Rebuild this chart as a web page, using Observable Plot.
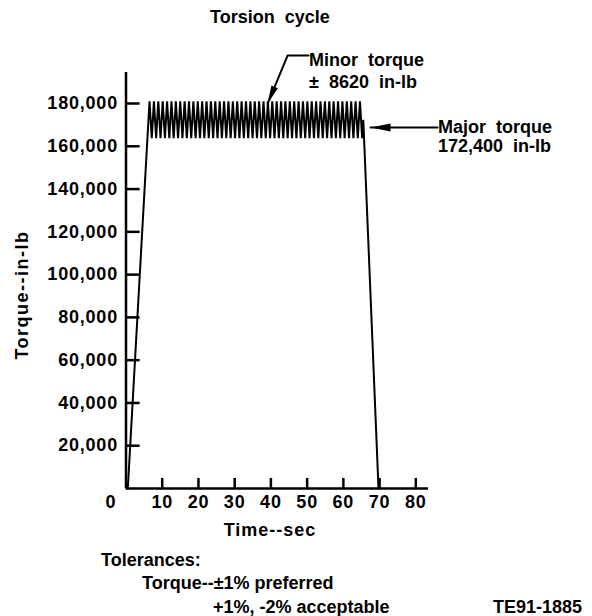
<!DOCTYPE html>
<html>
<head>
<meta charset="utf-8">
<script src="https://cdn.jsdelivr.net/npm/d3@7"></script>
<script src="https://cdn.jsdelivr.net/npm/@observablehq/plot@0.6"></script>
<style>
  body { margin: 0; background: #fff; }
  #wrap { position: relative; width: 592px; height: 616px; overflow: hidden; background: #fff; }
  #chart { position: absolute; left: 0; top: 0; }
  .lbl { position: absolute; font: bold 18px "Liberation Sans", Arial, Helvetica, sans-serif; line-height: 18px; white-space: pre; color: #000; }
  svg text { letter-spacing: 0.8px; }
</style>
</head>
<body>
<div id="wrap">
  <div id="chart"></div>
  <div class="lbl" style="left:210px; top:8px;">Torsion  cycle</div>
  <div class="lbl" style="left:22px; top:295px; transform: translate(-50%,-50%) rotate(-90deg); letter-spacing:1.5px;">Torque--in-lb</div>
  <div class="lbl" style="left:270px; top:530px; transform: translate(-50%,-50%); letter-spacing:1px;">Time--sec</div>
  <div class="lbl" style="left:309px; top:51px;">Minor  torque</div>
  <div class="lbl" style="left:309px; top:73px;">±  8620  in-lb</div>
  <div class="lbl" style="left:438px; top:118px;">Major  torque</div>
  <div class="lbl" style="left:438px; top:137px;">172,400  in-lb</div>
  <div class="lbl" style="left:101px; top:551px;">Tolerances:</div>
  <div class="lbl" style="left:142px; top:574px;">Torque--±1% preferred</div>
  <div class="lbl" style="left:213px; top:598px;">+1%, -2% acceptable</div>
  <div class="lbl" style="left:493px; top:598px;">TE91-1885</div>
</div>
<script>
// ---- data ----
const yTicks = [20000, 40000, 60000, 80000, 100000, 120000, 140000, 160000, 180000];
const xTicks = [10, 20, 30, 40, 50, 60, 70, 80];
const xZeroTick = [0];
const xDomain = [0, 83.5];
const yDomain = [0, 194500];
// inward tick lengths, in data units
const yTickLen = 3.9;     // seconds
const xTickLen = 4700;    // in-lb

const majorTorque = 172400;
const minorTorque = 8620;

const rampTime = [0.5, 6.2];
const rampTorque = [0, 172400];
const dropTime = [65.5, 69.7];
const dropTorque = [172400, 0];

const peakTimes = [6.50, 7.71, 8.92, 10.13, 11.34, 12.55, 13.76, 14.97, 16.18, 17.39,
  18.60, 19.81, 21.02, 22.23, 23.44, 24.65, 25.86, 27.07, 28.28, 29.49,
  30.70, 31.91, 33.12, 34.33, 35.54, 36.75, 37.96, 39.17, 40.38, 41.59,
  42.80, 44.01, 45.22, 46.43, 47.64, 48.85, 50.06, 51.27, 52.48, 53.69,
  54.90, 56.11, 57.32, 58.53, 59.74, 60.95, 62.16, 63.37, 64.58];
const troughTimes = [7.11, 8.32, 9.53, 10.74, 11.95, 13.16, 14.37, 15.58, 16.79, 18.00,
  19.21, 20.42, 21.63, 22.84, 24.05, 25.26, 26.47, 27.68, 28.89, 30.10,
  31.31, 32.52, 33.73, 34.94, 36.15, 37.36, 38.57, 39.78, 40.99, 42.20,
  43.41, 44.62, 45.83, 47.04, 48.25, 49.46, 50.67, 51.88, 53.09, 54.30,
  55.51, 56.72, 57.93, 59.14, 60.35, 61.56, 62.77, 63.98, 65.19];

// annotation leaders (data units)
const minorArrowX = [50.4, 44.6, 39.1];
const minorArrowY = [202400, 202400, 180000];
const majorArrowX = [86.0, 67.5];
const majorArrowY = [168800, 168800];

// ---- build table ----
const series = [];
rampTime.forEach((t, i) => series.push({time: t, torque: rampTorque[i]}));
peakTimes.forEach((t, i) => {
  series.push({time: t, torque: majorTorque + minorTorque});
  series.push({time: troughTimes[i], torque: majorTorque - minorTorque});
});
dropTime.forEach((t, i) => series.push({time: t, torque: dropTorque[i]}));

const minorArrow = minorArrowX.map((x, i) => ({x, y: minorArrowY[i]}));
const majorArrow = majorArrowX.map((x, i) => ({x, y: majorArrowY[i]}));

// custom arrowhead symbols
const headLeft = {draw(c) { c.moveTo(0, 0); c.lineTo(20, -4); c.lineTo(20, 4); c.closePath(); }};
const headDownLeft = {draw(c) { c.moveTo(0, 0); c.lineTo(10.2, -15.3); c.lineTo(3.7, -18.0); c.closePath(); }};

const font = "\"Liberation Sans\", Arial, Helvetica, sans-serif";

const chart = Plot.plot({
  width: 592,
  height: 545,
  marginLeft: 125.5,
  marginRight: 164,
  marginTop: 72,
  marginBottom: 57,
  x: {domain: xDomain, label: null},
  y: {domain: yDomain, label: null},
  style: {fontFamily: font, fontSize: "18px", fontWeight: "bold", background: "white", color: "black", overflow: "visible"},
  marks: [
    Plot.axisY(yTicks, {tickSize: 0, tickPadding: 8, tickFormat: d3.format(","), label: null, fontSize: 18}),
    Plot.axisX(xTicks, {tickSize: 0, tickPadding: 7, label: null, fontSize: 18}),
    Plot.axisX(xZeroTick, {tickSize: 0, tickPadding: 7, label: null, dx: -15, fontSize: 18}),
    Plot.ruleY(yTicks, {y: d => d, x1: xDomain[0], x2: xDomain[0] + yTickLen, stroke: "black", strokeWidth: 2.5}),
    Plot.ruleX(xTicks, {x: d => d, y1: yDomain[0], y2: yDomain[0] + xTickLen, stroke: "black", strokeWidth: 2.5}),
    Plot.ruleX([xDomain[0]], {y1: yDomain[0], y2: yDomain[1], stroke: "black", strokeWidth: 2.5}),
    Plot.ruleY([yDomain[0]], {x1: xDomain[0], x2: xDomain[1], stroke: "black", strokeWidth: 2.5}),
    Plot.line(series, {x: "time", y: "torque", stroke: "black", strokeWidth: 2, strokeLinejoin: "miter"}),
    Plot.line(minorArrow, {x: "x", y: "y", stroke: "black", strokeWidth: 2}),
    Plot.line(majorArrow, {x: "x", y: "y", stroke: "black", strokeWidth: 2}),
    Plot.dot(minorArrow.slice(-1), {x: "x", y: "y", symbol: headDownLeft, fill: "black", stroke: "none"}),
    Plot.dot(majorArrow.slice(-1), {x: "x", y: "y", symbol: headLeft, fill: "black", stroke: "none"})
  ]
});
document.getElementById("chart").appendChild(chart);
</script>
</body>
</html>
